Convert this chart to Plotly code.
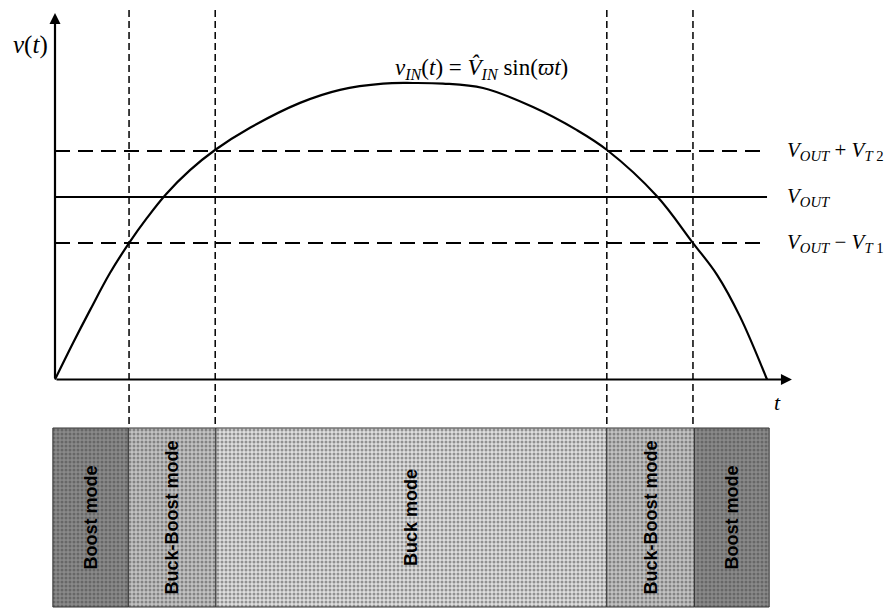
import plotly.graph_objects as go

# ---- data ----
t_curve = [0.0, 0.253, 0.492, 0.772, 1.039, 1.292, 1.559, 1.896, 2.247, 2.739,
           3.441, 4.003, 4.607, 5.028, 5.449, 6.011, 6.713, 7.331, 7.753, 8.455,
           8.961, 9.298, 9.621, 10.0]
v_curve = [0.0, 0.123, 0.234, 0.359, 0.460, 0.545, 0.625, 0.706, 0.774, 0.849,
           0.933, 0.977, 0.998, 1.0, 0.998, 0.983, 0.919, 0.841, 0.774, 0.618,
           0.460, 0.353, 0.212, 0.0]

level_names = ["<i>V</i><sub><i>OUT</i></sub> + <i>V</i><sub><i>T</i> 2</sub>",
               "<i>V</i><sub><i>OUT</i></sub>",
               "<i>V</i><sub><i>OUT</i></sub> − <i>V</i><sub><i>T</i> 1</sub>"]
level_values = [0.771, 0.6155, 0.4604]
level_dash = ["15px,8px", "solid", "15px,8px"]

switch_times = [1.04, 2.25, 7.75, 8.96]

mode_names = ["Boost mode", "Buck-Boost mode", "Buck mode", "Buck-Boost mode", "Boost mode"]
mode_start = [-0.03, 1.03, 2.26, 7.75, 8.98]
mode_end = [1.03, 2.26, 7.75, 8.98, 10.03]
mode_bg = ["#8a8a8a", "#c2c2c2", "#dedede", "#c2c2c2", "#8a8a8a"]
mode_fg = ["#484848", "#8c8c8c", "#b0b0b0", "#8c8c8c", "#484848"]

curve_label = "<i>v</i><sub><i>IN</i></sub>(<i>t</i>) = <i>V̂</i><sub><i>IN</i></sub> sin(<i>ϖt</i>)"

# band placement (below the time axis)
band_center = -0.4654
band_thickness = 0.6037

SERIF = "Liberation Serif, Times New Roman, serif"

fig = go.Figure()

# mode band
fig.add_trace(go.Bar(
    y=[band_center] * len(mode_names),
    x=[e - s for s, e in zip(mode_start, mode_end)],
    base=mode_start,
    orientation="h",
    width=band_thickness,
    text=mode_names,
    textposition="inside",
    insidetextanchor="middle",
    textangle=-90,
    constraintext="none",
    textfont=dict(family="Liberation Sans, Arial", size=18, color="black", weight="bold"),
    marker=dict(
        color=mode_bg,
        line=dict(color="#333333", width=1),
        pattern=dict(shape=".", fgcolor=mode_fg, bgcolor=mode_bg, size=4, solidity=0.45),
    ),
    hoverinfo="skip",
    showlegend=False,
))

# vertical dashed switching lines
for ts in switch_times:
    fig.add_trace(go.Scatter(
        x=[ts, ts], y=[1.246, -0.1636], mode="lines",
        line=dict(color="black", width=1.5, dash="7px,4px"),
        hoverinfo="skip", showlegend=False,
    ))

# horizontal levels
for name, val, dash in zip(level_names, level_values, level_dash):
    fig.add_trace(go.Scatter(
        x=[0, 10], y=[val, val], mode="lines",
        line=dict(color="black", width=2 if dash != "solid" else 1.8, dash=dash),
        hoverinfo="skip", showlegend=False,
    ))
    fig.add_annotation(x=10.25, y=val, text=name, showarrow=False,
                       xanchor="left", yanchor="middle",
                       font=dict(family=SERIF, size=21, color="black"))

# input voltage curve
fig.add_trace(go.Scatter(
    x=t_curve, y=v_curve, mode="lines",
    line=dict(color="black", width=2.2, shape="spline", smoothing=1.0),
    hoverinfo="skip", showlegend=False,
))

# axes with arrows
fig.add_annotation(x=10.35, y=0, ax=0, ay=0, axref="x", ayref="y", xref="x", yref="y",
                   showarrow=True, arrowhead=2, arrowsize=1, arrowwidth=2.2, arrowcolor="black", text="")
fig.add_annotation(x=0, y=1.236, ax=0, ay=0, axref="x", ayref="y", xref="x", yref="y",
                   showarrow=True, arrowhead=2, arrowsize=1, arrowwidth=2.2, arrowcolor="black", text="")

# labels
fig.add_annotation(x=-0.351, y=1.128, text="<i>v</i>(<i>t</i>)", showarrow=False,
                   font=dict(family=SERIF, size=25, color="black"))
fig.add_annotation(x=10.15, y=-0.079, text="<i>t</i>", showarrow=False,
                   font=dict(family=SERIF, size=22, color="black"))
fig.add_annotation(x=4.75, y=1.05, text=curve_label, showarrow=False, xanchor="left",
                   font=dict(family=SERIF, size=23, color="black"))

fig.update_layout(
    width=885, height=609,
    margin=dict(l=0, r=0, t=0, b=0),
    paper_bgcolor="white", plot_bgcolor="white",
    xaxis=dict(range=[-0.7725, 11.657], visible=False, fixedrange=True),
    yaxis=dict(range=[-0.774, 1.2799], visible=False, fixedrange=True),
    bargap=0,
    showlegend=False,
)

fig.write_html("out.html",
               config={"displayModeBar": False, "staticPlot": True},
               post_script="document.body.style.margin='0px';document.body.style.overflow='hidden';")
